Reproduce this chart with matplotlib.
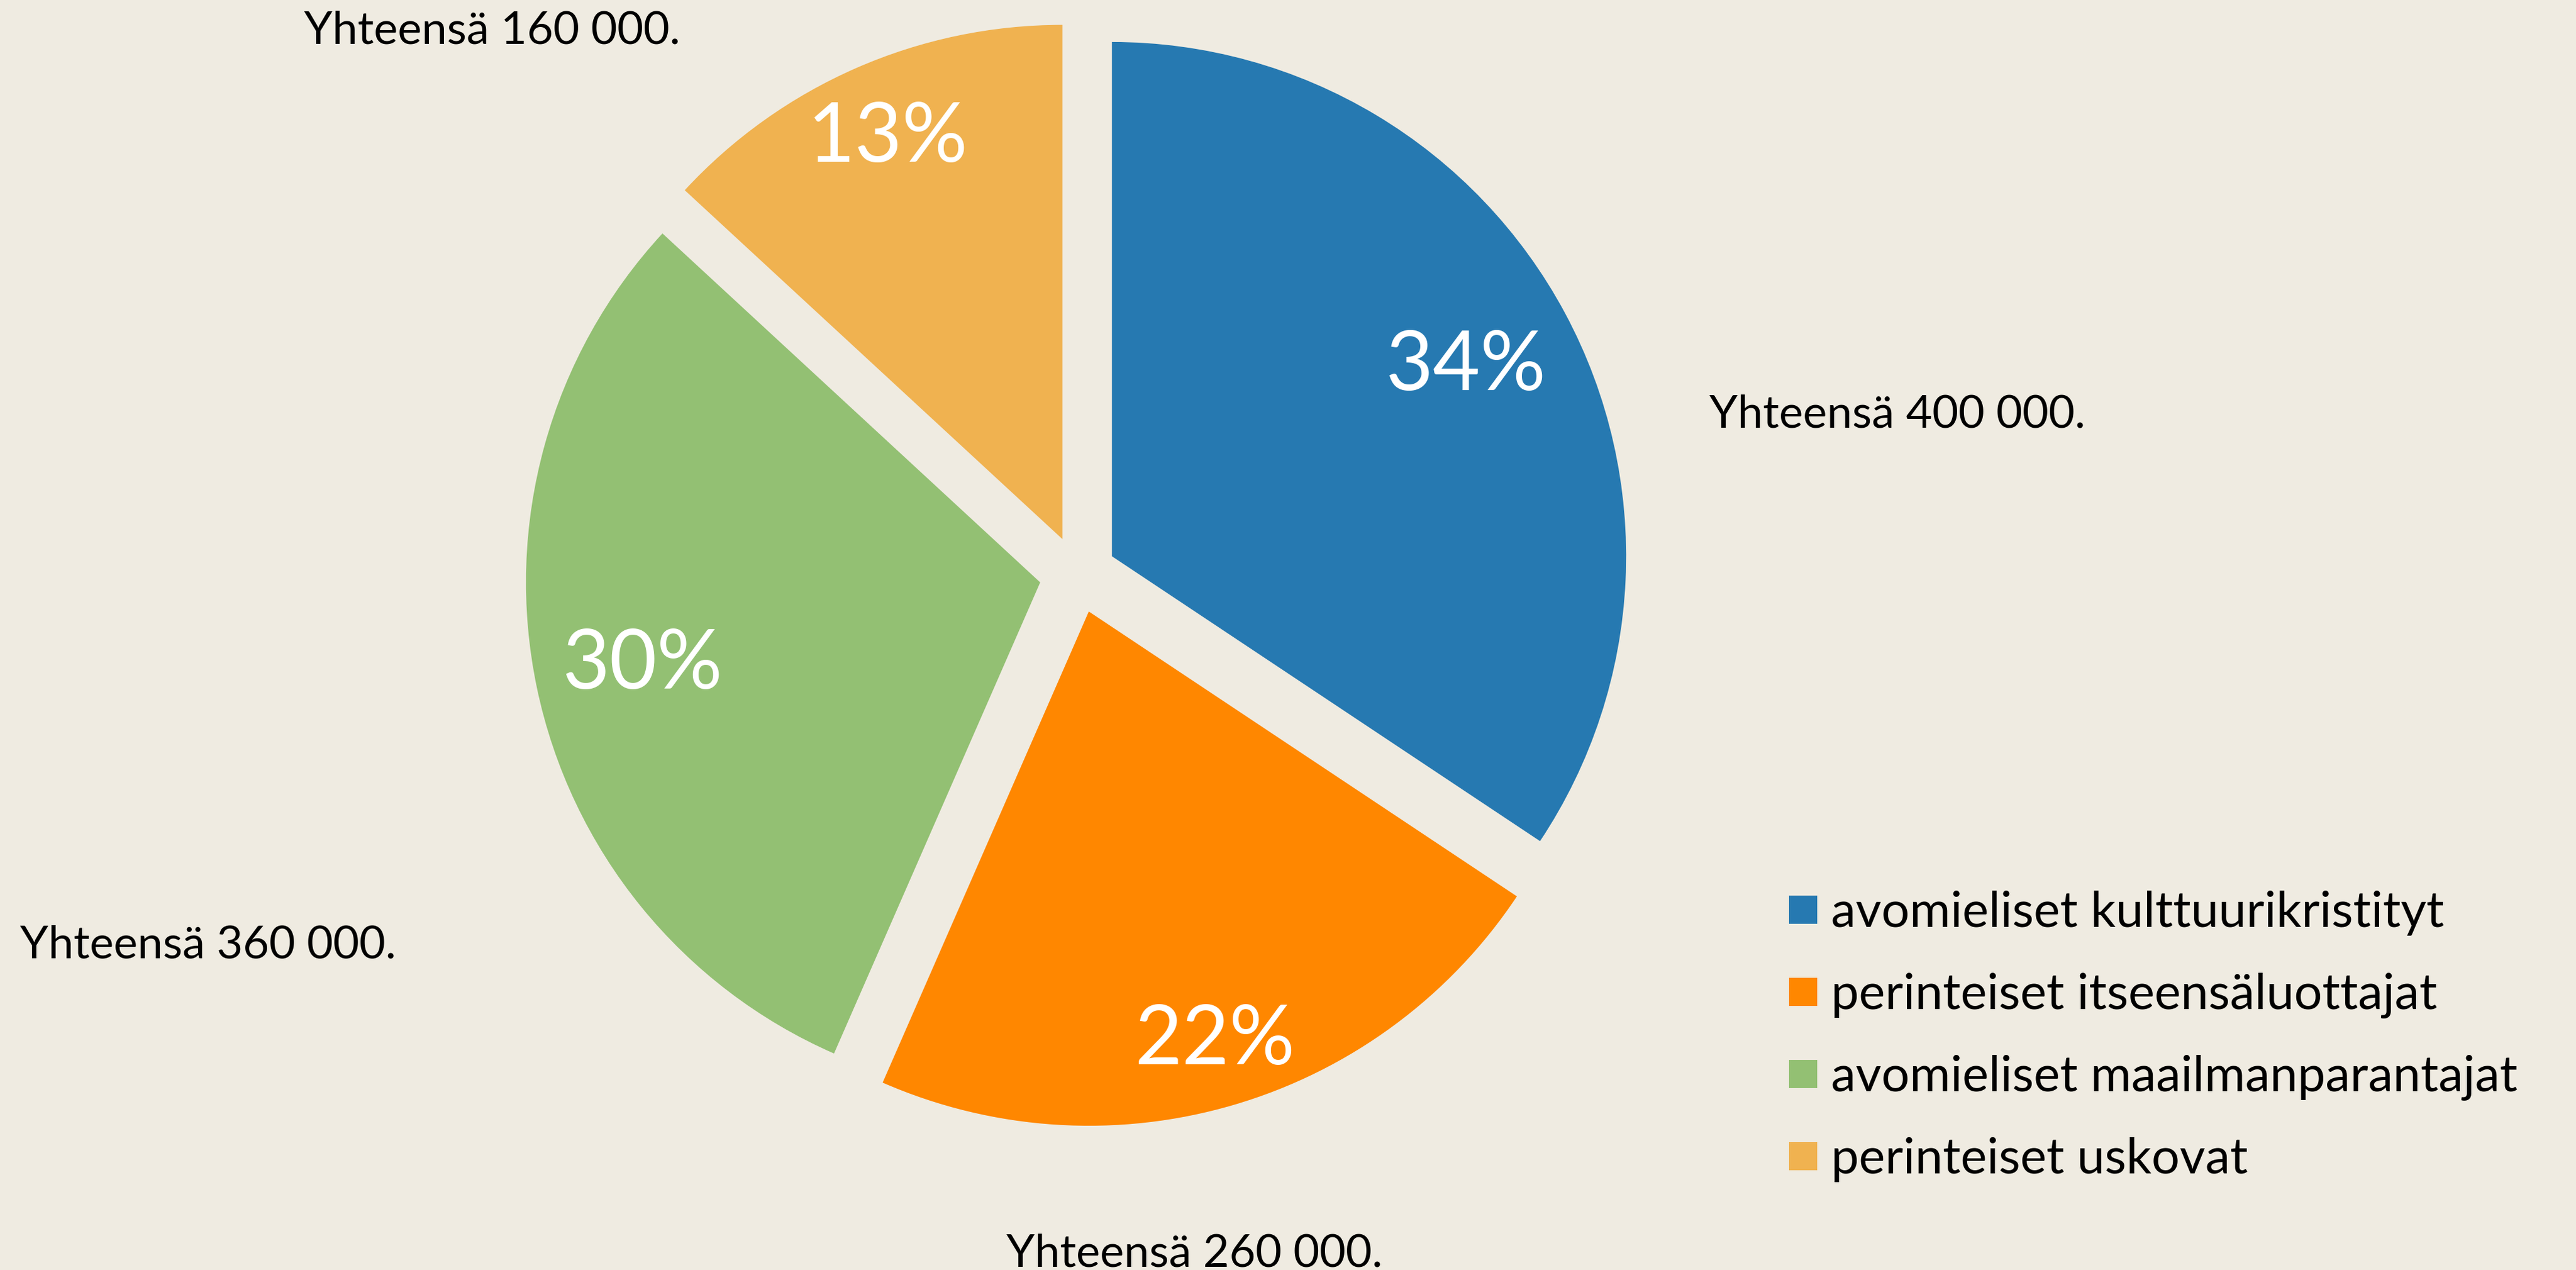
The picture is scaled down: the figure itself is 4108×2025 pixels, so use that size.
import numpy as np
import matplotlib.pyplot as plt
from matplotlib.patches import Rectangle

# data
groups = ["avomieliset kulttuurikristityt", "perinteiset itseensäluottajat",
          "avomieliset maailmanparantajat", "perinteiset uskovat"]
shares = [34, 22, 30, 13]          # percent shown on slices
totals = ["Yhteensä 400 000.", "Yhteensä 260 000.",
          "Yhteensä 360 000.", "Yhteensä 160 000."]
colors = ["#2679B1", "#FF8700", "#93C073", "#F0B250"]

W, H = 4108, 2025
bg = "#EFEBE1"

fig = plt.figure(figsize=(W / 100, H / 100), dpi=100, facecolor=bg)
ax = fig.add_axes([0, 0, 1, 1])
ax.set_facecolor(bg)

radius = 820
center = (1719, H - 916)
# explode is in data units, so scale by radius
wedges, _ = ax.pie(shares, colors=colors, startangle=90, counterclock=False,
                   explode=[0.075 * radius] * len(shares), radius=radius,
                   center=center, frame=True, wedgeprops=dict(linewidth=0))
ax.set_xlim(0, W)
ax.set_ylim(0, H)
ax.set_aspect("equal")
ax.axis("off")

# percentage labels inside slices
pct_dist = [0.78, 0.87, 0.79, 0.85]
for w, s, d in zip(wedges, shares, pct_dist):
    ang = np.deg2rad((w.theta1 + w.theta2) / 2)
    cx, cy = w.center
    ax.text(cx + d * radius * np.cos(ang), cy + d * radius * np.sin(ang),
            f"{s}%", color="white", fontsize=94, family="Lato",
            ha="center", va="center")

# total labels around the pie (left edge, baseline)
total_pos = [(2726, 681), (1605, 2019), (32, 1528), (485, 69)]
for t, (x, y) in zip(totals, total_pos):
    ax.text(x, H - y, t, fontsize=52, family="Lato", color="black",
            ha="left", va="baseline")

# legend, drawn by hand
sq = 45
for i, (name, w) in enumerate(zip(groups, wedges)):
    top = 1428 + i * 131
    ax.add_patch(Rectangle((2853, H - top - sq), sq, sq,
                           facecolor=w.get_facecolor(), linewidth=0))
    ax.text(2920, H - (1478 + i * 131), name, fontsize=57, family="Lato",
            color="black", ha="left", va="baseline")

fig.savefig("out.png", dpi=100, facecolor=bg)
